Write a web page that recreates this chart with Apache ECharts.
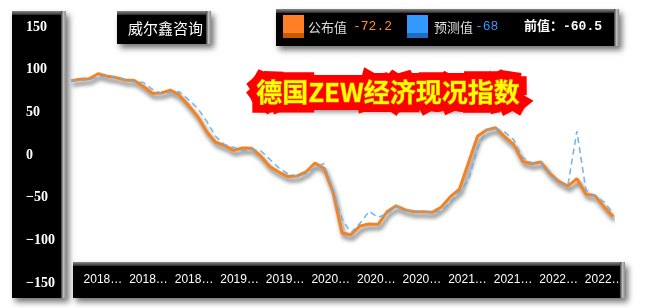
<!DOCTYPE html>
<html><head><meta charset="utf-8">
<script src="https://cdn.jsdelivr.net/npm/echarts@6/dist/echarts.min.js"></script>
<style>html,body{margin:0;padding:0;background:#fff;}#c{width:648px;height:308px;}</style>
</head><body><div id="c"></div>
<script>
const categories = ["2017-10","2017-11","2017-12",
"2018-01","2018-02","2018-03","2018-04","2018-05","2018-06","2018-07","2018-08","2018-09","2018-10","2018-11","2018-12",
"2019-01","2019-02","2019-03","2019-04","2019-05","2019-06","2019-07","2019-08","2019-09","2019-10","2019-11","2019-12",
"2020-01","2020-02","2020-03","2020-04","2020-05","2020-06","2020-07","2020-08","2020-09","2020-10","2020-11","2020-12",
"2021-01","2021-02","2021-03","2021-04","2021-05","2021-06","2021-07","2021-08","2021-09","2021-10","2021-11","2021-12",
"2022-01","2022-02","2022-03","2022-04","2022-05","2022-06","2022-07","2022-08","2022-09","2022-10"];
const actualValues = [87.0,88.8,89.3,
95.2,92.3,90.7,87.9,87.4,80.6,72.4,72.6,76.0,70.1,58.2,45.3,
27.6,15.0,11.1,5.5,8.2,7.8,-1.1,-13.5,-19.9,-25.3,-24.7,-19.9,
-9.5,-15.7,-43.1,-91.5,-93.5,-83.1,-80.9,-81.3,-66.2,-59.5,-64.3,-66.5,
-66.4,-67.2,-61.0,-48.8,-40.1,-9.1,21.9,29.3,31.9,21.6,12.5,-7.4,
-10.2,-8.1,-21.4,-30.8,-36.5,-27.6,-45.8,-47.6,-60.5,-72.2];
const forecastValues = [87.5,87.5,88.5,
91.0,93.0,91.0,88.0,86.0,85.0,77.0,72.0,73.0,74.0,65.0,55.0,
40.0,22.0,12.0,9.0,5.0,6.0,5.0,-5.0,-15.0,-22.0,-25.0,-22.0,
-15.0,-10.0,-42.0,-75.0,-91.0,-80.0,-66.0,-73.0,-69.0,-60.0,-65.0,-66.0,
-67.0,-67.0,-66.0,-55.0,-43.0,-30.0,8.0,29.0,31.0,27.0,18.0,-3.0,
-9.0,-9.0,-20.0,-33.0,-36.0,28.0,-41.0,-48.0,-55.0,-68.0];
const yTicks = {min:-150, max:150, interval:50};
const seriesNames = ["公布值","预测值"];
const titleText = "德国ZEW经济现况指数";
const brandText = "威尔鑫咨询";

const chart = echarts.init(document.getElementById('c'));
const G = echarts.graphic;
function panel(x,y,w,h){
  return [
    {type:'rect', z:0, shape:{x:x,y:y,width:w,height:h},
     style:{fill:'#000', shadowBlur:6, shadowOffsetX:3, shadowOffsetY:4, shadowColor:'rgba(0,0,0,0.55)'}},
    {type:'rect', z:1, shape:{x:x,y:y,width:w,height:4},
     style:{fill:new G.LinearGradient(0,0,0,1,[{offset:0,color:'#8a8a8a'},{offset:1,color:'#2a2a2a'}])}},
    {type:'rect', z:1, shape:{x:x+w-5,y:y,width:5,height:h},
     style:{fill:new G.LinearGradient(0,0,1,0,[{offset:0,color:'#3a3a3a'},{offset:0.5,color:'#bdbdbd'},{offset:1,color:'#8a8a8a'}])}}
  ];
}
const n = actualValues.length;
const lastA = actualValues[n-1], lastF = forecastValues[n-1], prevA = actualValues[n-2];
const minus = s => String(s).replace('-', '\u2212');

const elements = [].concat(
  panel(12,11,54,287),
  panel(117,11,94,33),
  panel(276,9,343,37),
  panel(73,262,552,36),
  [
    {type:'text', z:5, style:{x:128, y:28, text:brandText, fill:'#fff', font:'15px "Noto Sans CJK SC"', verticalAlign:'middle'}},
    {type:'rect', z:5, shape:{x:283,y:15,width:21,height:18}, style:{fill:'#ff7f27'}},
    {type:'rect', z:5, shape:{x:283,y:33,width:21,height:5}, style:{fill:'#c85a00'}},
    {type:'text', z:5, style:{x:308, y:27, text:seriesNames[0], fill:'#dddddd', font:'13px "Noto Sans CJK SC"', verticalAlign:'middle'}},
    {type:'text', z:5, style:{x:353, y:27, text:String(lastA), fill:'#ff8a2a', font:'13px "Liberation Mono"', verticalAlign:'middle'}},
    {type:'rect', z:5, shape:{x:407,y:15,width:21,height:18}, style:{fill:'#3399ff'}},
    {type:'rect', z:5, shape:{x:407,y:33,width:21,height:5}, style:{fill:'#1c6fc0'}},
    {type:'text', z:5, style:{x:434, y:27, text:seriesNames[1], fill:'#dddddd', font:'13px "Noto Sans CJK SC"', verticalAlign:'middle'}},
    {type:'text', z:5, style:{x:475, y:27, text:String(lastF), fill:'#3399ff', font:'13px "Liberation Mono"', verticalAlign:'middle'}},
    {type:'text', z:5, style:{x:524, y:27, text:'前值：' + String(prevA), fill:'#ffffff', font:'bold 13px "Liberation Mono", "Noto Sans CJK SC"', verticalAlign:'middle'}},
    {type:'rect', z:50, shape:{x:254,y:77,width:268,height:31,r:8},
     style:{fill:'#ff0000', shadowBlur:5, shadowOffsetX:3, shadowOffsetY:4, shadowColor:'rgba(0,0,0,0.45)'}},
    {type:'text', z:51, style:{x:388, y:92, text:titleText, fill:'#ff0000', font:'bold 26px "Noto Sans CJK SC"',
      align:'center', verticalAlign:'middle', stroke:'#ff0000', lineWidth:16, lineJoin:'round',
      shadowBlur:4, shadowOffsetX:3, shadowOffsetY:4, shadowColor:'rgba(0,0,0,0.4)'}},
    {type:'text', z:52, style:{x:388, y:92, text:titleText, fill:'#ffff00', font:'bold 26px "Noto Sans CJK SC"',
      align:'center', verticalAlign:'middle', stroke:'#e08000', lineWidth:0.8}}
  ]
);

chart.setOption({
  animation:false,
  backgroundColor:'#fff',
  grid:[{left:71, right:35, top:27, bottom:25}, {left:71, right:21, top:27, bottom:25}],
  xAxis:[
    {type:'category', gridIndex:0, data:categories, boundaryGap:false,
     axisLine:{show:false}, axisTick:{show:false}, axisLabel:{show:false}, splitLine:{show:false}},
    {type:'category', gridIndex:1, data:categories, boundaryGap:true,
     axisLine:{show:false}, axisTick:{show:false}, splitLine:{show:false},
     axisLabel:{interval:(i)=> i % 5 === 3, color:'#fff', fontSize:12, fontFamily:'Liberation Sans',
       verticalAlign:'middle', margin:-3, formatter:(v)=> v.slice(0,4) + '\u2026'}}
  ],
  yAxis:[
    {type:'value', gridIndex:0, min:yTicks.min, max:yTicks.max, interval:yTicks.interval,
     axisLine:{show:false}, axisTick:{show:false}, splitLine:{show:false},
     axisLabel:{align:'left', margin:45, color:'#fff', fontWeight:'bold', fontSize:14, fontFamily:'Liberation Serif',
       formatter:(v)=> minus(v)}},
    {type:'value', gridIndex:1, min:yTicks.min, max:yTicks.max, show:false}
  ],
  series:[
    {name:seriesNames[0], type:'line', xAxisIndex:0, yAxisIndex:0, data:actualValues, symbol:'none', z:3,
     lineStyle:{color:'#f5821f', width:3, shadowColor:'rgba(0,0,0,0.6)', shadowBlur:4, shadowOffsetX:2, shadowOffsetY:4}},
    {name:seriesNames[1], type:'line', xAxisIndex:0, yAxisIndex:0, data:forecastValues, symbol:'none', z:4,
     lineStyle:{color:'#6aaee8', width:1.6, type:[6,4], opacity:0.9}}
  ],
  graphic:{elements:elements}
});
</script></body></html>
